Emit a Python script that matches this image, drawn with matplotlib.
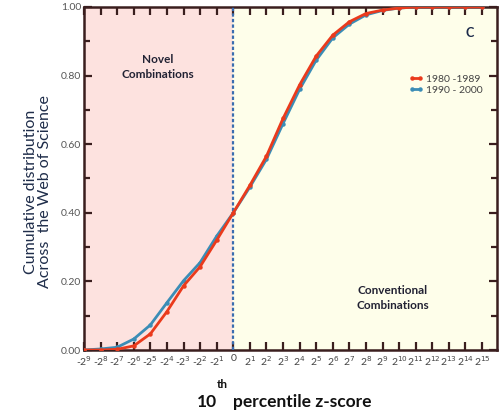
import numpy as np
import matplotlib
matplotlib.use('Agg')
import matplotlib.pyplot as plt
from matplotlib.ticker import MultipleLocator

plt.rcParams['font.family'] = ['Lato', 'DejaVu Sans']

# tick labels, from -2^9 up to 2^15
tick_labels = ['-2$^{%d}$' % p for p in range(9, 0, -1)] + ['0'] + ['2$^{%d}$' % p for p in range(1, 16)]

# one value per tick
cum_1980 = [0.0, 0.0, 0.002, 0.012, 0.047, 0.112, 0.187, 0.243, 0.32, 0.40,
            0.48, 0.565, 0.675, 0.773, 0.857, 0.918, 0.957, 0.981, 0.991, 0.997,
            1.0, 1.0, 1.0, 1.0, 1.0]
cum_1990 = [0.0, 0.003, 0.008, 0.032, 0.073, 0.138, 0.202, 0.255, 0.332, 0.40,
            0.475, 0.556, 0.66, 0.76, 0.845, 0.91, 0.95, 0.977, 0.99, 0.997,
            1.0, 1.0, 1.0, 1.0, 1.0]

x = np.arange(len(tick_labels))
zero_pos = tick_labels.index('0')

fig = plt.figure(figsize=(5.04, 4.13), dpi=100)
ax = fig.add_axes([84/504, 63/413, 413/504, 343/413])

ax.axvspan(0, zero_pos, color='#fde2df', zorder=0)
ax.axvspan(zero_pos, 24.9, color='#fefeea', zorder=0)
ax.axvline(zero_pos, color='#3a6db0', ls=(0, (1.5, 1)), lw=1.6, zorder=3)

red = '#ea3a1c'
blue = '#3b8db6'
ax.plot(x, cum_1990, color=blue, lw=2, marker='o', ms=2.2, label='1990 - 2000', zorder=4)
ax.plot(x, cum_1980, color=red, lw=2, marker='o', ms=2.2, label='1980 -1989', zorder=5)

ax.set_xlim(0, 24.9)
ax.set_ylim(0, 1)
ax.set_xticks(x)
ax.set_xticklabels(tick_labels, fontsize=7.5, color='#444444')
ax.set_yticks(np.arange(0, 1.01, 0.2))
ax.set_yticklabels(['%.2f' % v for v in np.arange(0, 1.01, 0.2)], fontsize=7.5, color='#555555')
ax.yaxis.set_minor_locator(MultipleLocator(0.1))

spine_col = '#3a1e1e'
for s in ax.spines.values():
    s.set_color(spine_col)
    s.set_linewidth(1.8)
ax.tick_params(which='both', direction='in', color=spine_col, width=1.6,
               top=True, right=True)
ax.tick_params(which='major', length=6)
ax.tick_params(which='minor', length=4)
ax.tick_params(axis='x', pad=3)
ax.tick_params(axis='y', pad=2)

h, l = ax.get_legend_handles_labels()
ax.legend(h[::-1], l[::-1], loc='upper left', bbox_to_anchor=(0.765, 0.83),
          frameon=False, fontsize=7.5, handlelength=1.3, handletextpad=0.3,
          labelspacing=0.15, numpoints=2, labelcolor='#444444')

txt_kw = dict(ha='center', va='center', fontsize=8.5, fontweight='bold',
              color='#222233', linespacing=1.5)
fig.text(158/504, 1 - 67/413, 'Novel\nCombinations', **txt_kw)
fig.text(393/504, 1 - 298/413, 'Conventional\nCombinations', **txt_kw)
fig.text(470/504, 1 - 33/413, 'C', ha='center', va='center', fontsize=9,
         fontweight='bold', color='#1c2a4a')

fig.text(38/504, 1 - 192/413, 'Cumulative distribution\nAcross  the Web of Science',
         rotation=90, ha='center', va='center', fontsize=11.5, color='#1f2d4a',
         linespacing=1.0)

fig.text(217/504, 1 - 402/413, '10', ha='right', va='center', fontsize=12.5,
         fontweight='bold', color='#111111')
fig.text(222/504, 1 - 385/413, 'th', ha='center', va='center', fontsize=8.5,
         fontweight='bold', color='#111111')
fig.text(233/504, 1 - 402/413, 'percentile z-score', ha='left', va='center',
         fontsize=12.5, fontweight='bold', color='#111111')

fig.savefig('out.png', dpi=100)
